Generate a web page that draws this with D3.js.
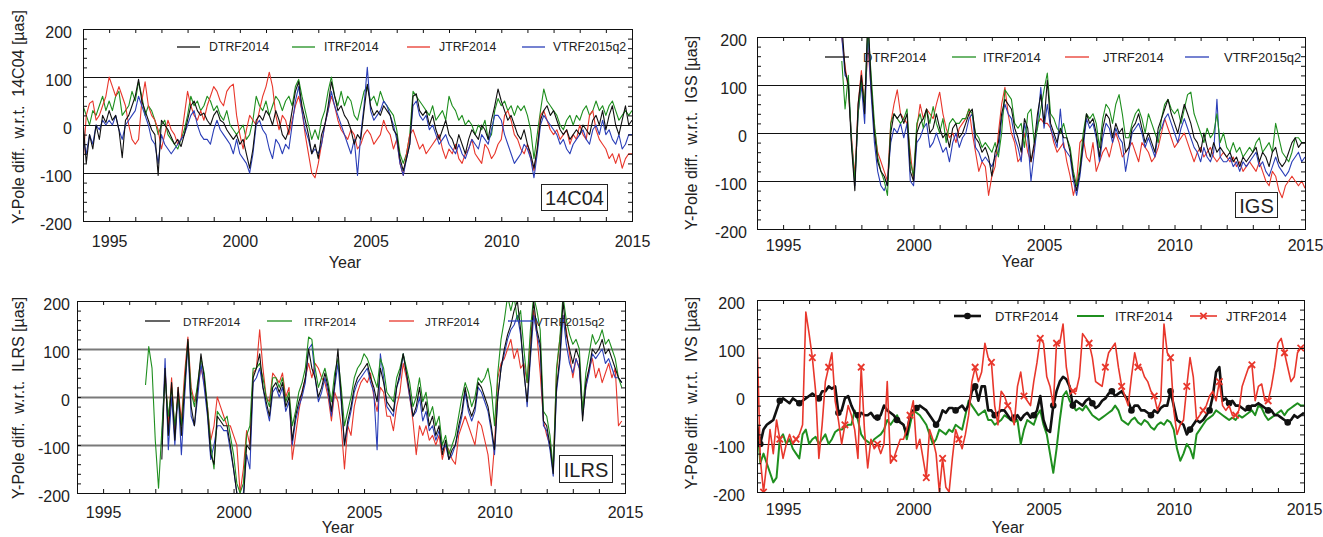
<!DOCTYPE html>
<html>
<head>
<meta charset="utf-8">
<script src="https://cdn.jsdelivr.net/npm/d3@7"></script>
<style>
body { margin: 0; background: #fff; }
text { font-family: "Liberation Sans", Arial, sans-serif; fill: #222; }
</style>
</head>
<body>
<svg id="chart" width="1323" height="537"></svg>
<script>
// sampling of all series: one value every 1/8 year
var step = 0.125;
var startC04 = 1994, startIgs = 1997.25, startIlrs = 1996.625, startIvs = 1994;
var yearTicks = d3.range(1994, 2016);
var yTicks = d3.range(-200, 201, 20);
var gridValues = [-100, 0, 100];

// ---- 14C04 panel ----
var c04Dtrf = [
  10, -80, -20, -50, 0, -30, 20, 5,
  30, 10, 20, -10, -68, 10, 20, 40,
  60, 95, 50, 30, 10, -10, -20, -105,
  10, 0, -10, -25, -40, -30, -45, -20,
  10, 40, 50, 30, 20, 25, 10, 0,
  20, 30, 10, 5, -10, -20, -30, -20,
  -40, -30, -60, -90, -50, 10, 20, 10,
  30, 20, 0, 30, 10, -20, -30, -10,
  30, 70, 90, 40, 10, -20, -60, -40,
  -70, -20, 0, 40, 90, 60, 30, 40,
  20, 10, -10, -40, -20, -30, 30, 85,
  40, 20, 30, 20, 40, 30, 20, -10,
  -20, -70, -95, -70, -40, 60, 65, 30,
  20, 30, 0, 20, -10, -30, -10, 10,
  -20, -30, -50, -20, -40, -60, -30, -10,
  -20, -30, 0, -10, -30, 10, 40, 75,
  50, 30, 10, 20, 0, -20, -30, -10,
  -40, -60, -90, -50, 10, 30, 40, 20,
  30, 10, -10, -20, -10, -30, -20, -10,
  -20, 0, -10, -20, 10, 20, 0, 30,
  -10, 20, 40, 0, -20, 10, 40, 0,
  10];
var c04Itrf = [
  40, 20, 0, 30, 20, 40, 60, 30,
  50, 30, 60, 70, 20, 30, 40, 70,
  50, 90, 60, 20, 40, 30, 10, -20,
  0, 10, -20, -30, -40, -50, -30, -10,
  20, 60, 40, 50, 30, 40, 60, 50,
  30, 40, 20, 10, 30, 0, -10, -20,
  -10, 0, -30, -20, 10, 60, 40, 30,
  50, 20, 40, 60, 50, 30, 50, 60,
  40, 80, 95, 60, 30, 0, -30, -10,
  -30, 10, 30, 70, 100, 60, 40, 70,
  40, 60, 50, 20, 10, 40, 70, 80,
  50, 60, 40, 70, 50, 40, 30, 20,
  -10, -60, -80, -60, -20, 70, 60, 50,
  40, 30, 20, 40, 10, 20, 30, 10,
  60, 40, 30, 10, 20, 0, 10, 0,
  -20, 0, -10, 10, -30, -20, 30, 55,
  40, 50, 30, 40, 20, 40, 30, 40,
  20, -10, -70, -20, 30, 75, 50, 40,
  30, 20, 0, -10, 10, 20, 0, 20,
  10, 30, 40, 20, 30, 50, 30, 40,
  20, 40, 50, 30, 10, 20, 30, 20,
  30];
var c04Jtrf = [
  -80, 20, 45, 50, 10, 20, 40, 60,
  100, 80, 60, 80, 60, 40, 0, -30,
  -40, -30, 50, 90, 40, 20, 10, -10,
  -50, -20, 10, -10, -20, -40, -30, 20,
  70, 40, 20, 10, 30, 10, 40, 60,
  80, 70, 50, 40, 70, 80, 85, 20,
  -20, -50, -10, 20, 10, 0, 30, 60,
  80, 110, 80, 20, -10, 20, 10, -20,
  10, 40, 60, 30, -20, -60, -100, -110,
  -80, -40, 0, 30, 60, 40, 10, -10,
  -20, -30, -10, -20, -50, -40, -20, -10,
  -20, -40, -30, -20, 10, -10, -20, -50,
  -30, -80, -105, -60, -20, -10, -30, -50,
  -40, -60, -50, -40, -30, -20, -50, -70,
  -50, -60, -40, -70, -80, -60, -50, -30,
  -60, -70, -80, -40, -50, -70, -60, -40,
  -30, 20, 30, 10, -20, -30, -50, -60,
  -40, -70, -95, -50, 20, 30, 10, -10,
  -20, -10, -30, -20, -10, -40, -20, -30,
  0, -20, -30, 20, 30, -10, -30, -40,
  -50, -70, -60, -80, -60, -90, -70, -60,
  -60];
var c04Vtrf = [
  -30, -60, -20, -40, 0, -10, 10, 0,
  10, 0, 20, -10, -30, 0, 10, 20,
  30, 60, 40, 20, 0, -30, -40, -80,
  -20, -40, -50, -60, -50, -40, -30, -20,
  0, 20, 30, 0, -20, -30, -30, -40,
  -10, 10, -10, -20, -30, -40, -60, -30,
  -60, -70, -80, -100, -60, 0, 10, -10,
  -20, -50, -70, -30, -40, -60, -40, -50,
  0, 50, 80, 30, -10, -30, -60, -50,
  -60, -40, 0, 30, 70, 40, 20, 0,
  -20, -40, -60, -30, -105, -20, 40, 120,
  30, 10, 20, 30, 50, 40, 20, 0,
  -30, -80, -105, -70, -40, 40, 50, 20,
  10, 20, -10, 0, -20, -40, -30, -20,
  -40, -50, -60, -40, -60, -70, -50, -30,
  -40, -50, -20, -30, -40, -10, 20, 20,
  10, -20, -40, -60, -80, -70, -60, -40,
  -50, -70, -110, -60, 0, 20, 10, 0,
  -10, -20, -40, -30, -50, -60, -40, -30,
  -20, -10, -30, -40, -10, 0, -20, 10,
  -20, -10, -30, -40, -20, -50, -40, -20,
  -20];

// ---- IGS panel (from 1997.25) ----
var igsDtrf = [
  230, 130, 100, -30, -120, 60,
  120, 40, 250, 100, 0, -60, -80, -90,
  -110, 0, 40, 30, 40, 20, 40, -80,
  -100, 0, 20, 30, 50, 0, 10, 40,
  10, -10, 0, -30, 10, 20, -10, 0,
  20, 40, 50, -10, -20, -40, -30, -50,
  -90, -40, -20, 40, 70, 60, 50, 10,
  -10, -40, 30, 10, -60, -20, 40, 80,
  20, 110, 20, 0, -20, 10, -10, -10,
  -40, -90, -120, -80, -20, 40, 20, 30,
  0, -50, 10, 40, 30, -10, 20, 0,
  10, -40, -30, 10, 20, 40, 10, -20,
  0, -20, -40, 10, 30, 50, 70, 40,
  20, 0, 30, 60, 40, 20, -10, -20,
  -40, 0, -30, -50, -20, -40, -30, -40,
  -50, -40, -60, -50, -70, -50, -60, -50,
  -40, -30, -60, -40, -50, -70, -40, -30,
  -60, -70, -60, -40, -20, -10, -30, -20,
  -20];
var igsItrf = [
  150, 50, 120, -20, -100, 40,
  110, 60, 220, 120, 20, -50, -80, -100,
  -130, 20, 40, 30, 20, 30, 50, -60,
  -90, 20, 40, 10, 50, 20, 55, 20,
  0, 30, -20, 20, 30, 20, 20, 30,
  30, 50, 40, 0, -10, -30, -20, -30,
  -40, -20, -50, 0, 90, 80, 70, 20,
  10, 20, -30, 40, 50, -20, 10, 50,
  90, 125, 40, 30, 10, 0, 20, -10,
  -30, -80, -110, -70, 0, 40, 30, 40,
  20, -30, 30, 60, 50, 20, 60, 80,
  40, -10, -10, 20, 40, 50, 30, 0,
  40, 20, 0, -20, 30, 60, 70, 50,
  40, 50, 20, 50, 80, 85, 40, 20,
  0, -20, 10, -10, 0, 40, -20, 0,
  -30, -40, -20, -40, -30, -50, -40, -30,
  -40, -20, -10, -40, -30, -20, -40, 20,
  -10, -40, -50, -60, -40, -10, -10, -20,
  -20];
var igsJtrf = [
  200, 140, 90, -10, -90, 60,
  130, 60, 180, 90, 10, -40, -60, -80,
  -100, 20, 60, 90, 40, 30, 20, -40,
  -100, 10, 60, 30, 50, 40, 30, 60,
  85, 40, 10, -10, 0, -20, 10, 20,
  30, 50, 0, -40, -80, -60, -70, -130,
  -90, -70, 0, 60, 95, 40, 0, -20,
  -60, -50, 0, -40, -60, -30, 20, 30,
  20, 20, 10, -20, -40, -30, -20, -60,
  -90, -130, -100, -20, -10, -50, -60, -20,
  -80, -60, -40, -30, -50, -20, 0, -20,
  -50, -40, -30, -20, -40, -60, -20, -30,
  -40, -60, -50, -30, 0, 30, 10, -10,
  -30, -20, -10, 0, -20, -40, -60, -40,
  -30, -50, -40, -30, -50, -60, -50, -40,
  -50, -60, -50, -70, -60, -80, -70, -60,
  -70, -80, -60, -80, -100, -110, -80, -90,
  -120, -135, -110, -100, -90, -100, -110, -100,
  -115];
var igsVtrf = [
  200, 120, 110, -20, -110, 40,
  100, 20, 210, 80, -20, -80, -110, -120,
  -100, -20, 10, 0, 20, -10, 20, -100,
  -110, -20, -10, 10, 20, -30, -20, 0,
  -20, -40, -30, -60, -20, 0, -30, -10,
  0, 30, 40, -30, -40, -60, -50, -60,
  -70, -50, -40, 30, 60, 40, 30, -10,
  -30, -60, 20, -10, -100, -40, 20, 95,
  10, 60, 10, -10, -30, 50, -30, -40,
  -50, -100, -130, -90, -30, 30, 10, 20,
  -10, -60, -10, 20, 10, -20, 10, -10,
  -20, -80, -40, 0, 10, 20, 0, -30,
  -10, -30, -50, 0, 10, 30, 40, 20,
  0, -20, 10, 30, 10, -10, -30, -40,
  -60, -30, -50, -60, -40, 70, -50, -60,
  -60, -50, -70, -60, -80, -60, -70, -60,
  -50, -40, -70, -60, -80, -90, -70, -50,
  -70, -80, -90, -80, -60, -50, -40, -60,
  -50];

// ---- ILRS panel (from 1996.625, null = no data) ----
var ilrsDtrf = [
  null, null, null, null, null,
  -130, 60, -80, 30, -90, 20,
  -80, 20, 120, -20, -60, 20, 90, 40,
  -30, -120, -140, -40, -50, -60, -60, -100,
  -150, -200, -230, -220, -100, -110, 40, 60,
  90, 20, -10, -40, 20, 30, 10, 30,
  -20, 0, -90, -40, -10, 10, 40, 100,
  60, 40, 0, 20, 50, 20, -30, 30,
  100, 0, -100, -50, -20, 20, 40, 50,
  60, 70, 40, 20, -10, 60, 30, -10,
  -20, -30, 20, 50, 90, 50, 10, -40,
  -20, 20, -30, -10, -60, -40, -80, -60,
  -120, -90, -130, -110, -100, -60, -30, 20,
  -20, -40, -20, 30, 20, 0, -20, -60,
  -110, 0, 60, 100, 130, 150, 180, 200,
  140, 50, -10, 90, 200, 140, 110, -50,
  -60, -100, -160, 20, 80, 200, 130, 100,
  70, 100, 80, -50, 30, 60, 100, 90,
  100, 120, 90, 100, 80, 60, 40, 30];
var ilrsItrf = [
  25, 105, 60,
  -90, -190, -70, 40, -40, 20, -60, 0,
  -60, 30, 115, 10, -20, 30, 80, 50,
  -20, -100, -150, -30, -40, -50, -40, -80,
  -120, -180, -200, -180, -80, -60, 60, 60,
  70, 40, 0, -20, 40, 40, 20, 40,
  -10, 10, -60, -30, 10, 30, 60, 125,
  120, 60, 20, 40, 60, 30, -10, 50,
  80, 20, -60, -30, 0, 40, 60, 70,
  90, 80, 60, 40, 20, 80, 60, 10,
  0, -10, 40, 60, 90, 60, 30, -20,
  0, 40, -10, 10, -40, -20, -60, -40,
  -100, -80, -120, -100, -80, -40, 0, 30,
  10, -20, 0, 40, 30, 40, 60, 20,
  -60, 50, 120, 160, 210, 180, 210, 160,
  180, 100, 30, 140, 210, 180, 140, -30,
  -40, -80, -150, 60, 120, 210, 160, 130,
  110, 120, 100, -30, 50, 90, 130, 110,
  120, 140, 110, 120, 100, 80, 40, 20];
var ilrsJtrf = [
  null, null, null, null, null,
  -100, 60, -60, 40, -80, 20,
  -50, 50, 125, 20, -10, 20, 60, 30,
  -20, -90, -60, 0, -20, -40, -60, -60,
  -80, -100, -200, -150, -70, -100, 50, 60,
  140, 60, 0, -10, 50, 40, 30, 50,
  0, 20, -130, -80, -30, 10, 40, 70,
  40, 70, 60, 40, 30, 0, -50, 10,
  -10, -60, -150, -60, -80, -20, 10, 30,
  40, 30, 50, 0, -30, 20, 10, -40,
  -40, -70, -20, 10, 70, 40, 0, -50,
  -120, -60, -80, -60, -90, -80, -100, -80,
  -130, -100, -110, -130, -140, -80, -60, -40,
  -60, -80, -100, -50, -60, -90, -120, -185,
  -100, 40, 70, 80, 100, 120, 80, 100,
  60, 70, 30, 120, 180, 130, 50, -50,
  -80, -100, -150, 50, 120, 170, 140, 90,
  40, 80, 60, -30, 20, 60, 80, 40,
  60, 30, 50, 70, 40, 60, -60, -50];
var ilrsVtrf = [
  null, null, null, null, null,
  -100, 80, -110, 0, -100, 10,
  -120, 0, 110, -40, -60, 0, 70, 20,
  -40, -130, -100, -60, -60, -70, -70, -110,
  -150, -200, -220, -200, -120, -150, 30, 40,
  60, 20, -20, -50, 10, 20, 0, 20,
  -30, -10, -100, -50, -20, 0, 30, 100,
  110, 40, -10, 10, 40, 10, -40, 20,
  70, -10, -100, -60, -30, 10, 30, 40,
  50, 60, 30, 10, -110, 90, 40, -20,
  -30, -40, 20, 40, 90, 50, 0, -40,
  -30, 0, -50, -30, -70, -60, -90, -70,
  -110, -100, -130, -120, -100, -70, -40, 10,
  -30, -50, -30, 20, 10, -10, -30, -70,
  -120, 0, 60, 90, 120, 140, 150, 170,
  130, 60, -20, 80, 170, 130, 100, -60,
  -70, -110, -165, 10, 70, 170, 110, 70,
  50, 80, 60, -40, 20, 50, 90, 80,
  90, 100, 70, 80, 60, 40, 40, 30];

// ---- IVS panel ----
var ivsDtrf = [
  -60, -100, -70, -60, -55, -50, -30, -10,
  -5, -10, -15, -5, -10, -15, -10, -5,
  0, 5, 0, -5, 10, 10, 20, 15,
  20, -35, -30, -5, 0, -20, -35, -40,
  -35, -40, -40, -35, -45, -45, -40, -20,
  -30, -35, -40, -50, -55, -60, -80, -40,
  -30, -25, -20, -25, -30, -40, -50, -60,
  -50, -30, -35, -25, -25, -30, -25, -20,
  -30, -20, 10, 20, -10, 20, 20, -30,
  -30, -40, -35, -30, -30, -40, -50, -45,
  -40, -50, -40, -35, -45, -40, -30, 0,
  -50, -70, -75, -20, 10, 30, 40, 35,
  20, -20, -10, -15, -20, -10, -5, -15,
  -25, -20, -10, -5, 5, 10, 0, 5,
  10, 0, -10, -30, -20, -20, -30, -30,
  -35, -40, -30, -35, -25, -20, -20, 10,
  -20, -50, -55, -60, -80, -70, -60, -50,
  -55, -50, -40, -30, 0, 50, 60, -10,
  -5, -15, -10, -20, -20, -25, -30, -25,
  -20, -20, -15, -20, -25, -30, -30, -40,
  -40, -45, -50, -55, -50, -40, -45, -40,
  -35];
var ivsItrf = [
  -50, -140, -120, -140, -160, -180, -170, -90,
  -80, -100, -90, -110, -120, -130, -80, -70,
  -100, -90, -85, -100, -90, -80, -100, -90,
  -75, -70, -70, -65, -60, -60, -30, -50,
  -80, -90, -95, -100, -90, -85, -80, -70,
  -50, -60, -50, -40, -55, -60, -90, -60,
  -30, -35, -40, -50, -60, -80, -100, -90,
  -70, -75, -80, -70, -75, -60, -65, -70,
  -40, -10, -20, -30, -40, -35, -30, -50,
  -50, -60, -55, -50, -40, -45, -50, -55,
  -50, -100, -70, -50, -55, -60, -40, -30,
  -60, -80, -120, -160, -110, -50, 0, 10,
  -10, -20, -30, -25, -30, -20, -30, -40,
  -45, -50, -45, -40, -35, -30, -20, -30,
  -50, -55, -60, -50, -45, -55, -60, -50,
  -55, -65, -70, -60, -55, -60, -50, -55,
  -70, -110, -135, -120, -100, -110, -130, -80,
  -70, -60, -50, -45, -40, -30, -35, -40,
  -45, -50, -45, -50, -40, -45, -40, -35,
  -30, -40, -20, -25, -40, -50, -45, -40,
  -35, -30, -40, -30, -25, -20, -15, -20,
  -20];
var ivsJtrf = [
  130, -130, -200, -140, -70, -120, -50, -90,
  -130, -100, -80, -100, -90, -80, -60, 175,
  130, 80, 10, -130, -60, 30, 60, 90,
  -10, -50, -100, -60, -20, -40, -70, -130,
  60, -70, -150, -90, -110, -100, -120, -100,
  30, -140, -130, -110, -90, -90, -70, -40,
  -10, -110, -90, -130, -170, -70, -90, -120,
  -200, -130, -190, -200, -130, -70, -90, -110,
  -80, -40, 30, 60, 30, 50, 110, 80,
  70, -20, -60, 10, 0, -20, -30, -60,
  20, 50, 0, -10, -20, 30, 70, 120,
  110, 40, 20, -20, 110, 110, 150, 60,
  20, 10, 10, 40, 130, 120, 110, 80,
  30, 25, 20, 60, 90, 100, 110, 60,
  20, 0, -20, 40, 90, 60, 60, 40,
  30, 10, 0, -30, -10, 150, 90, 80,
  -30, -80, -60, -50, 20, 80, 40, -50,
  -40, -30, -20, 0, 10, -10, 30, -20,
  -30, -20, -40, -40, -30, 20, 40, 60,
  65, -10, 20, 25, -10, -10, 20, 60,
  110, 120, 90, 60, 30, 40, 90, 100,
  100];

var yTickLabels = [-200, -100, 0, 100, 200];
var xTickLabels = [1995, 2000, 2005, 2010, 2015];

var colors = { dtrf: "#111111", itrf: "#1f8f1f", jtrf: "#e8372c", vtrf: "#2b3fb8" };
var fullNames = { dtrf: "DTRF2014", itrf: "ITRF2014", jtrf: "JTRF2014", vtrf: "VTRF2015q2" };

//Panel layout (positions are in pixels of the page)
var panels = [
  { id: "c04", left: 83, top: 29, width: 549, height: 192, start: startC04,
    data: { dtrf: c04Dtrf, itrf: c04Itrf, jtrf: c04Jtrf, vtrf: c04Vtrf },
    order: ["itrf", "jtrf", "vtrf", "dtrf"],
    yTitle: "Y-Pole diff.  w.r.t.  14C04 [µas]", yTitleX: 18, yTitleY: 117,
    xPad: 15, yPad: 11, yearX: 345, yearY: 262, grid: "#111", gridW: 1,
    box: { text: "14C04", x: 541, y: 184, w: 66, h: 26 },
    legend: { y: 47, size: 12.3, keys: ["dtrf", "itrf", "jtrf", "vtrf"],
      lx: [177, 292, 407, 522], tx: [209, 324, 439, 553], len: 23 } },
  { id: "igs", left: 757, top: 37, width: 548, height: 192, start: startIgs,
    data: { dtrf: igsDtrf, itrf: igsItrf, jtrf: igsJtrf, vtrf: igsVtrf },
    order: ["jtrf", "vtrf", "itrf", "dtrf"],
    yTitle: "Y-Pole diff.  w.r.t.  IGS [µas]", yTitleX: 691, yTitleY: 133,
    xPad: 11, yPad: 10, yearX: 1018, yearY: 261, grid: "#111", gridW: 1,
    box: { text: "IGS", x: 1235, y: 192, w: 42, h: 25 },
    legend: { y: 57, size: 13, keys: ["dtrf", "itrf", "jtrf", "vtrf"],
      lx: [825, 952, 1065, 1185], tx: [863, 983, 1103, 1224], len: 24 } },
  { id: "ilrs", left: 77, top: 301, width: 548, height: 192, start: startIlrs,
    data: { dtrf: ilrsDtrf, itrf: ilrsItrf, jtrf: ilrsJtrf, vtrf: ilrsVtrf },
    order: ["jtrf", "vtrf", "itrf", "dtrf"],
    yTitle: "Y-Pole diff.  w.r.t.  ILRS [µas]", yTitleX: 18, yTitleY: 398,
    xPad: 14, yPad: 7, yearX: 338, yearY: 527, grid: "#7a7a7a", gridW: 1.8,
    box: { text: "ILRS", x: 559, y: 455, w: 53, h: 27 },
    legend: { y: 321, size: 11.7, keys: ["dtrf", "itrf", "jtrf", "vtrf"],
      lx: [145, 267, 389, 508], tx: [183, 304, 425, 535], len: 25 } },
  { id: "ivs", left: 757, top: 300, width: 547, height: 192, start: startIvs,
    data: { dtrf: ivsDtrf, itrf: ivsItrf, jtrf: ivsJtrf },
    order: ["itrf", "dtrf", "jtrf"],
    yTitle: "Y-Pole diff.  w.r.t.  IVS [µas]", yTitleX: 691, yTitleY: 393,
    xPad: 12, yPad: 12, yearX: 1008, yearY: 527, grid: "#111", gridW: 1,
    box: null, markers: true,
    legend: { y: 316, size: 13, keys: ["dtrf", "itrf", "jtrf"],
      lx: [954, 1077, 1190], tx: [995, 1115, 1226], len: 27 } }
];

var svg = d3.select("#chart");

function lineWidth(p, key) {
    if (!p.markers) { return 1.1; }
    if (key === "dtrf") { return 2.6; }
    if (key === "itrf") { return 2; }
    return 1.6;
}

function drawCross(g, cx, cy, color) {
    var s = 3.2;
    g.append("path")
        .attr("d", "M" + (cx - s) + "," + (cy - s) + "L" + (cx + s) + "," + (cy + s) +
              "M" + (cx - s) + "," + (cy + s) + "L" + (cx + s) + "," + (cy - s))
        .attr("stroke", color).attr("stroke-width", 1.8).attr("fill", "none");
}

panels.forEach(function (p) {
    "use strict";
    var x = d3.scaleLinear().domain([1994, 2015]).range([p.left, p.left + p.width]);
    var y = d3.scaleLinear().domain([-200, 200]).range([p.top + p.height, p.top]);
    var g = svg.append("g").attr("class", "panel-" + p.id);

    g.append("clipPath").attr("id", "clip-" + p.id)
        .append("rect")
        .attr("x", p.left).attr("y", p.top)
        .attr("width", p.width).attr("height", p.height);

    //Reference lines at -100, 0 and 100
    g.selectAll(".grid").data(gridValues).enter()
        .append("line")
        .attr("x1", p.left).attr("x2", p.left + p.width)
        .attr("y1", function (d) { return Math.round(y(d)) + 0.5; })
        .attr("y2", function (d) { return Math.round(y(d)) + 0.5; })
        .attr("stroke", p.grid).attr("stroke-width", p.gridW);

    //Series
    var plot = g.append("g").attr("clip-path", "url(#clip-" + p.id + ")");
    p.order.forEach(function (key) {
        var pts = p.data[key].map(function (v, i) {
            return { t: p.start + i * step, v: v };
        });
        var line = d3.line()
            .defined(function (d) { return d.v !== null; })
            .x(function (d) { return x(d.t); })
            .y(function (d) { return y(d.v); });
        plot.append("path")
            .datum(pts)
            .attr("d", line)
            .attr("fill", "none")
            .attr("stroke", colors[key])
            .attr("stroke-width", lineWidth(p, key))
            .attr("stroke-linejoin", "round");

        if (p.markers && key === "dtrf") {
            plot.selectAll(".dot").data(pts.filter(function (d, i) { return i % 6 === 1; }))
                .enter().append("circle")
                .attr("cx", function (d) { return x(d.t); })
                .attr("cy", function (d) { return y(d.v); })
                .attr("r", 3.3).attr("fill", colors.dtrf);
        }
        if (p.markers && key === "jtrf") {
            pts.filter(function (d, i) { return i % 5 === 2; }).forEach(function (d) {
                drawCross(plot, x(d.t), y(d.v), colors.jtrf);
            });
        }
    });

    //Axes with inward ticks
    var fontFamily = '"Liberation Sans", Arial, sans-serif';
    var bottom = g.append("g")
        .attr("transform", "translate(0," + (p.top + p.height) + ")")
        .call(d3.axisBottom(x).tickValues(yearTicks).tickSize(-4).tickPadding(p.xPad)
            .tickFormat(function (d) { return xTickLabels.indexOf(d) >= 0 ? d : ""; }));
    g.append("g")
        .attr("transform", "translate(0," + p.top + ")")
        .call(d3.axisTop(x).tickValues(yearTicks).tickSize(-4).tickFormat(""));
    var left = g.append("g")
        .attr("transform", "translate(" + p.left + ",0)")
        .call(d3.axisLeft(y).tickValues(yTicks).tickSize(-4).tickPadding(p.yPad)
            .tickFormat(function (d) { return yTickLabels.indexOf(d) >= 0 ? d : ""; }));
    g.append("g")
        .attr("transform", "translate(" + (p.left + p.width) + ",0)")
        .call(d3.axisRight(y).tickValues(yTicks).tickSize(-4).tickFormat(""));
    g.selectAll(".domain").remove();
    g.selectAll(".tick line").attr("stroke", "#111");
    [bottom, left].forEach(function (a) {
        a.selectAll("text")
            .attr("font-family", fontFamily)
            .attr("font-size", 16)
            .attr("fill", "#222");
    });
    left.selectAll("text").attr("dy", "0.55em");

    //Frame
    g.append("rect")
        .attr("x", p.left + 0.5).attr("y", p.top + 0.5)
        .attr("width", p.width).attr("height", p.height)
        .attr("fill", "none").attr("stroke", "#111").attr("stroke-width", 1);

    //Axis titles
    g.append("text")
        .attr("x", p.yearX).attr("y", p.yearY)
        .attr("text-anchor", "middle").attr("dominant-baseline", "central")
        .style("font-size", "16px")
        .text("Year");
    g.append("text")
        .attr("transform", "translate(" + p.yTitleX + "," + p.yTitleY + ") rotate(-90)")
        .attr("text-anchor", "middle").attr("dominant-baseline", "central")
        .style("font-size", "16px")
        .style("white-space", "pre")
        .text(p.yTitle);

    //Legend
    var lg = p.legend;
    lg.keys.forEach(function (key, i) {
        g.append("line")
            .attr("x1", lg.lx[i]).attr("x2", lg.lx[i] + lg.len)
            .attr("y1", lg.y).attr("y2", lg.y)
            .attr("stroke", colors[key])
            .attr("stroke-width", p.markers ? lineWidth(p, key) : 1.3);
        if (p.markers && key === "dtrf") {
            g.append("circle").attr("cx", lg.lx[i] + lg.len / 2).attr("cy", lg.y)
                .attr("r", 3.3).attr("fill", colors.dtrf);
        }
        if (p.markers && key === "jtrf") {
            drawCross(g, lg.lx[i] + lg.len / 2, lg.y, colors.jtrf);
        }
        g.append("text")
            .attr("x", lg.tx[i]).attr("y", lg.y)
            .attr("dominant-baseline", "central")
            .style("font-size", lg.size + "px")
            .text(fullNames[key]);
    });

    //Label box
    if (p.box) {
        g.append("rect")
            .attr("x", p.box.x + 0.5).attr("y", p.box.y + 0.5)
            .attr("width", p.box.w).attr("height", p.box.h)
            .attr("fill", "#fff").attr("stroke", "#222").attr("stroke-width", 1);
        g.append("text")
            .attr("x", p.box.x + p.box.w / 2 + 0.5).attr("y", p.box.y + p.box.h / 2 + 1)
            .attr("text-anchor", "middle").attr("dominant-baseline", "central")
            .style("font-size", "20px")
            .text(p.box.text);
    }
});
</script>
</body>
</html>
